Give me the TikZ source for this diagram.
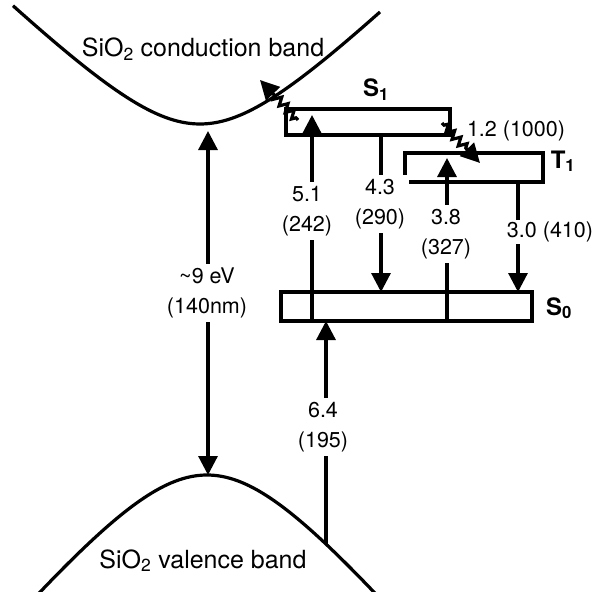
\documentclass[tikz,border=0pt]{standalone}
\usepackage{fontspec}
\setmainfont{TeX Gyre Heros}
\usetikzlibrary{arrows.meta, calc, decorations.pathmorphing}

\begin{document}
\begin{tikzpicture}[x=1pt, y=-1pt, line width=3.2pt,
            >={Triangle[length=19pt, width=19pt]},
            lvl/.style={draw, rectangle, inner sep=0pt, outer sep=0pt},
            num/.style={fill=white, inner sep=4pt, align=center, font=\fontsize{21.5}{30}\selectfont},
            numtxt/.style={inner sep=0pt, font=\fontsize{21.5}{30}\selectfont},
            st/.style={inner sep=0pt, font=\fontsize{24}{26}\selectfont\bfseries},
            band/.style={inner sep=0pt, font=\fontsize{25}{28}\selectfont},
            wavy/.style={decorate, decoration={zigzag, segment length=9pt, amplitude=4pt, pre length=3pt, post length=19pt}}]
            \useasboundingbox (0,0) rectangle (599,591);
            \clip (0,0) rectangle (599,591);
            % bands
            \draw plot[domain=-187:180, samples=90, smooth] ({200+\x}, {124-83.5*(sqrt(1+(\x/85)^2)-1)});
            \draw plot[domain=-175:170, samples=90, smooth] ({207+\x}, {475+114.6*(sqrt(1+(\x/95)^2)-1)});
            \node[band, anchor=base] (cbl) at (203,57) {SiO\textsubscript{2} conduction band};
            \node[band, anchor=base] (vbl) at (203,568) {SiO\textsubscript{2} valence band};
            % levels
            \node[lvl, minimum width=164pt, minimum height=26pt] (S1) at (368,122)   {};
            \node[lvl, minimum width=138pt, minimum height=29pt] (T1) at (474,167.5) {};
            \node[lvl, minimum width=251pt, minimum height=29pt] (S0) at (406.5,306.5) {};
            \node[st, anchor=base] (lS1) at (376,97)  {S\textsubscript{1}};
            \node[st, anchor=base] (lT1) at (563,168) {T\textsubscript{1}};
            \node[st, anchor=base] (lS0) at (559,315) {S\textsubscript{0}};
            % transitions
            \coordinate (cb) at (208,131);
            \coordinate (vb) at (208,475);
            \coordinate (v64) at (326,544);
            \coordinate (p51) at (312,0);
            \coordinate (p43) at (381,0);
            \coordinate (p38) at (447,0);
            \coordinate (p30) at (518,0);
            \draw[<->] (cb) -- (vb);
            \draw[->] (S0.south -| p51) -- ($(S1.north -| p51)+(0,6)$);
            \draw[->] (S1.south -| p43) -- (S0.north -| p43);
            \draw[->] (S0.south -| p38) -- ($(T1.north -| p38)+(0,5)$);
            \draw[->] (T1.south -| p30) -- (S0.north -| p30);
            \draw[->] (v64) -- (S0.south -| v64);
            \coordinate (w1a) at (298,120);
            \coordinate (w1b) at (260,80);
            \coordinate (w2a) at (442,123);
            \coordinate (w2b) at (480,163);
            \draw[->, wavy] (w1a) -- (w1b);
            \draw[->, wavy] (w2a) -- (w2b);
            % labels
            \node[num] (l9)  at (207,293) {\textasciitilde9 eV\\(140nm)};
            \node[num] (l51) at (307,211) {5.1\\(242)};
            \node[num] (l43) at (380,204) {4.3\\(290)};
            \node[num] (l38) at (446,234) {3.8\\(327)};
            \node[num] (l64) at (323,427) {6.4\\(195)};
            \node[num, inner sep=2pt] (l30) at (550,232) {3.0 (410)};
            \node[numtxt] (l12) at (516,131) {1.2 (1000)};
\end{tikzpicture}
\end{document}
